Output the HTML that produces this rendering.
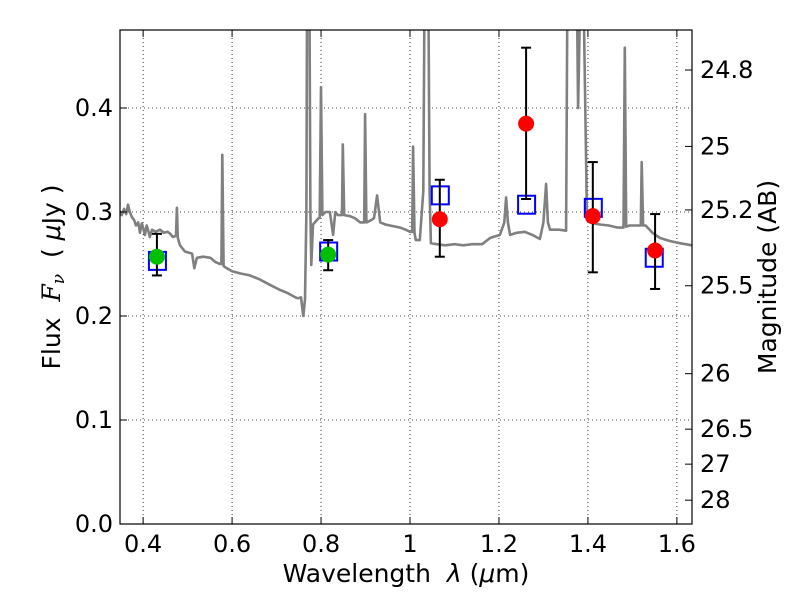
<!DOCTYPE html>
<html><head><meta charset="utf-8"><style>
body{margin:0;background:#fff}
svg text{font-family:"DejaVu Sans","Liberation Sans",sans-serif;fill:#000}
</style></head><body>
<svg id="c" width="800" height="600" xmlns="http://www.w3.org/2000/svg"></svg>
<script>
const xTicks=[0.4,0.6,0.8,1.0,1.2,1.4,1.6];
const xTickLabels=["0.4","0.6","0.8","1","1.2","1.4","1.6"];
const yTicks=[0,0.1,0.2,0.3,0.4];
const yTickLabels=["0.0","0.1","0.2","0.3","0.4"];
const magTicks=[24.8,25,25.2,25.5,26,26.5,27,28];
const magTickLabels=["24.8","25","25.2","25.5","26","26.5","27","28"];
const specLam=[0.348,0.352,0.357,0.362,0.366,0.370,0.375,0.380,0.384,0.389,0.393,0.397,0.400,0.404,0.408,0.411,0.415,0.420,0.428,0.438,0.447,0.455,0.461,0.467,0.474,0.476,0.478,0.483,0.494,0.510,0.515,0.521,0.535,0.551,0.562,0.573,0.576,0.578,0.581,0.584,0.600,0.618,0.640,0.663,0.685,0.708,0.725,0.742,0.748,0.755,0.760,0.764,0.767,0.769,0.773,0.776,0.778,0.782,0.790,0.797,0.800,0.803,0.810,0.820,0.827,0.832,0.838,0.847,0.849,0.852,0.865,0.876,0.888,0.897,0.899,0.902,0.912,0.919,0.926,0.933,0.945,0.955,0.967,0.978,0.990,1.000,1.005,1.007,1.010,1.013,1.022,1.030,1.034,1.040,1.044,1.047,1.060,1.079,1.100,1.120,1.140,1.162,1.180,1.202,1.212,1.216,1.220,1.225,1.240,1.258,1.275,1.292,1.300,1.306,1.310,1.315,1.335,1.351,1.355,1.373,1.378,1.387,1.398,1.412,1.427,1.447,1.467,1.480,1.483,1.486,1.494,1.512,1.519,1.521,1.524,1.530,1.545,1.562,1.585,1.607,1.634];
const specFlux=[0.301,0.297,0.303,0.298,0.307,0.300,0.295,0.292,0.287,0.290,0.280,0.289,0.285,0.278,0.287,0.283,0.276,0.283,0.281,0.283,0.280,0.281,0.279,0.276,0.277,0.304,0.275,0.268,0.262,0.260,0.246,0.256,0.257,0.256,0.252,0.250,0.250,0.355,0.248,0.247,0.243,0.241,0.239,0.235,0.230,0.225,0.222,0.218,0.217,0.218,0.200,0.216,0.300,0.600,0.600,0.300,0.249,0.288,0.292,0.295,0.420,0.297,0.300,0.300,0.278,0.300,0.297,0.297,0.365,0.297,0.296,0.294,0.290,0.290,0.394,0.290,0.292,0.294,0.316,0.290,0.288,0.287,0.286,0.285,0.283,0.281,0.281,0.363,0.280,0.273,0.273,0.320,0.600,0.600,0.320,0.270,0.269,0.268,0.269,0.268,0.269,0.269,0.275,0.278,0.290,0.314,0.290,0.278,0.280,0.281,0.278,0.274,0.290,0.327,0.290,0.283,0.283,0.282,0.600,0.600,0.400,0.600,0.292,0.289,0.288,0.287,0.285,0.285,0.458,0.286,0.287,0.287,0.287,0.348,0.287,0.287,0.280,0.275,0.272,0.270,0.268];
const gLam=[0.431,0.816];
const gFlux=[0.257,0.259];
const gLo=[0.239,0.244];
const gHi=[0.279,0.273];
const bLam=[0.431,0.816,1.067,1.261,1.411,1.548];
const bFlux=[0.253,0.262,0.316,0.307,0.304,0.256];
const rLam=[1.067,1.261,1.411,1.551];
const rFlux=[0.293,0.385,0.296,0.263];
const rLo=[0.257,0.3125,0.242,0.226];
const rHi=[0.331,0.458,0.348,0.298];

const L=120,R=692,T=30,B=524;
const xMin=0.348,xMax=1.634,yMin=0,yMax=0.475;
const X=v=>L+(v-xMin)/(xMax-xMin)*(R-L);
const Y=v=>B-(v-yMin)/(yMax-yMin)*(B-T);
const magToFlux=m=>Math.pow(10,(23.9-m)/2.5);
const svg=document.getElementById('c');
const NS="http://www.w3.org/2000/svg";
function mk(tag,attrs,parent){const e=document.createElementNS(NS,tag);for(const k in attrs)e.setAttribute(k,attrs[k]);(parent||svg).appendChild(e);return e;}

const defs=mk('defs',{});
const cp=mk('clipPath',{id:'clip'},defs);
mk('rect',{x:L,y:T,width:R-L,height:B-T},cp);

const grid=mk('g',{});


xTicks.forEach(v=>{mk('line',{x1:X(v),x2:X(v),y1:T,y2:B,stroke:'#000','stroke-width':0.8,'stroke-dasharray':'1,3'},grid);});
yTicks.forEach(v=>{mk('line',{x1:L,x2:R,y1:Y(v),y2:Y(v),stroke:'#000','stroke-width':0.8,'stroke-dasharray':'1,3'},grid);});

const d=specLam.map((l,i)=>(i?'L':'M')+X(l).toFixed(1)+','+Y(specFlux[i]).toFixed(1)).join(' ');
const sp=mk('path',{d:d,fill:'none',stroke:'#808080','stroke-width':2.6,'stroke-linejoin':'round','clip-path':'url(#clip)'});



bLam.forEach((l,i)=>{
 const s=mk('rect',{x:X(l)-8,y:Y(bFlux[i])-9,width:17,height:18,fill:'none',stroke:'#0000ff','stroke-width':2});
 
 
});
function errbar(x,lo,hi,name){
 const g=mk('g',{stroke:'#000','stroke-width':2});
 
 
 mk('line',{x1:x,x2:x,y1:Y(lo),y2:Y(hi)},g);
 mk('line',{x1:x-5,x2:x+5,y1:Y(lo),y2:Y(lo)},g);
 mk('line',{x1:x-5,x2:x+5,y1:Y(hi),y2:Y(hi)},g);
}
gLam.forEach((l,i)=>{
 errbar(X(l),gLo[i],gHi[i],'green-errorbar');
 const c=mk('circle',{cx:X(l),cy:Y(gFlux[i]),r:8,fill:'#00bf00'});
 
 
});
rLam.forEach((l,i)=>{
 errbar(X(l),rLo[i],rHi[i],'red-errorbar');
 const c=mk('circle',{cx:X(l),cy:Y(rFlux[i]),r:8,fill:'#ff0000'});
 
 
});

const fr=mk('rect',{x:L,y:T,width:R-L,height:B-T,fill:'none',stroke:'#000','stroke-width':1.2});



xTicks.forEach((v,i)=>{
 mk('line',{x1:X(v),x2:X(v),y1:B,y2:B-7,stroke:'#000'});
 mk('line',{x1:X(v),x2:X(v),y1:T,y2:T+7,stroke:'#000'});
 const t=mk('text',{x:X(v),y:B+28,'text-anchor':'middle',style:'font-size:24px'});
 t.textContent=xTickLabels[i];
 
 
});
yTicks.forEach((v,i)=>{
 mk('line',{x1:L,x2:L+7,y1:Y(v),y2:Y(v),stroke:'#000'});
 const t=mk('text',{x:L-7,y:Y(v)+8,'text-anchor':'end',style:'font-size:24px'});
 t.textContent=yTickLabels[i];
 
 
});
magTicks.forEach((m,i)=>{
 const y=Y(magToFlux(m));
 mk('line',{x1:R,x2:R-7,y1:y,y2:y,stroke:'#000'});
 const t=mk('text',{x:R+8,y:y+8,'text-anchor':'start',style:'font-size:24px'});
 t.textContent=magTickLabels[i];
 
 
});
</script>
<svg width="800" height="600" style="position:absolute;left:0;top:0" xml:space="preserve">
<text x="406" y="582" text-anchor="middle" style="font-size:25px;white-space:pre">Wavelength  <tspan font-style="italic">λ</tspan> (<tspan font-style="italic">μ</tspan>m)</text>
<text transform="translate(60,277) rotate(-90)" text-anchor="middle" style="font-size:25px;white-space:pre">Flux  <tspan font-style="italic" font-family="DejaVu Serif">F</tspan><tspan font-style="italic" font-family="DejaVu Serif" style="font-size:17px" dy="4">ν</tspan><tspan dy="-4">  ( </tspan><tspan font-style="italic">μ</tspan>Jy )</text>
<text transform="translate(776,277) rotate(-90)" text-anchor="middle" style="font-size:25px">Magnitude (AB)</text>
</svg>
</body></html>
